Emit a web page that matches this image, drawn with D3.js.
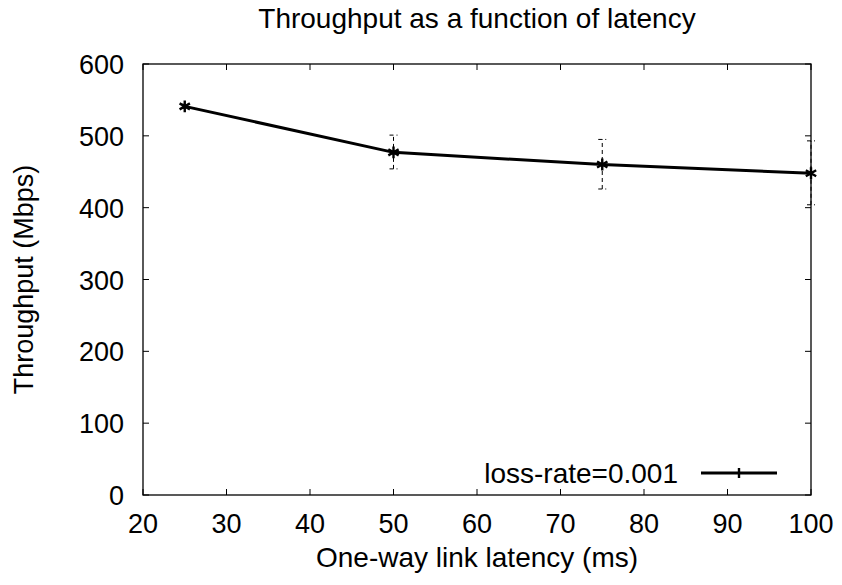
<!DOCTYPE html>
<html>
<head>
<meta charset="utf-8">
<script src="https://cdn.jsdelivr.net/npm/d3@7"></script>
<style>
  body { margin: 0; background: #fff; }
  text { font-family: "Liberation Sans", Arial, sans-serif; fill: #000; }
</style>
</head>
<body>
<div id="chart"></div>
<script>
// data
var latency = [25, 50, 75, 100];
var throughput = [541, 477, 460, 448];
var errLow = [538, 454, 426, 404];
var errHigh = [544, 501, 495, 493];
var xTicks = [20, 30, 40, 50, 60, 70, 80, 90, 100];
var yTicks = [0, 100, 200, 300, 400, 500, 600];
var seriesName = "loss-rate=0.001";

var w = 842,
  h = 585;
var pL = 143, pR = 811, pT = 64, pB = 495;

var svg = d3.select("#chart").append("svg").attr("width", w).attr("height", h);

var x = d3.scaleLinear().domain([20, 100]).range([pL, pR]);
var y = d3.scaleLinear().domain([0, 600]).range([pB, pT]);

// frame
svg.append("rect").attr("x", pL).attr("y", pT).attr("width", pR - pL).attr("height", pB - pT)
  .attr("fill", "none").attr("stroke", "#000").attr("stroke-width", 1.3);

// ticks inside on all sides
var tk = 6;
xTicks.forEach(function(t) {
  svg.append("line").attr("x1", x(t)).attr("x2", x(t)).attr("y1", pB).attr("y2", pB - tk).attr("stroke", "#000");
  svg.append("line").attr("x1", x(t)).attr("x2", x(t)).attr("y1", pT).attr("y2", pT + tk).attr("stroke", "#000");
  svg.append("text").attr("x", x(t)).attr("y", pB + 38).attr("text-anchor", "middle")
    .attr("font-size", 27).text(t);
});
yTicks.forEach(function(t) {
  svg.append("line").attr("x1", pL).attr("x2", pL + tk).attr("y1", y(t)).attr("y2", y(t)).attr("stroke", "#000");
  svg.append("line").attr("x1", pR).attr("x2", pR - tk).attr("y1", y(t)).attr("y2", y(t)).attr("stroke", "#000");
  svg.append("text").attr("x", pL - 19).attr("y", y(t) + 10).attr("text-anchor", "end")
    .attr("font-size", 27).text(t);
});

// titles
svg.append("text").attr("x", (pL + pR) / 2).attr("y", 28).attr("text-anchor", "middle")
  .attr("font-size", 28).text("Throughput as a function of latency");
svg.append("text").attr("x", (pL + pR) / 2).attr("y", 567).attr("text-anchor", "middle")
  .attr("font-size", 28).text("One-way link latency (ms)");
svg.append("text").attr("transform", "translate(33," + (pT + pB) / 2 + ") rotate(-90)")
  .attr("text-anchor", "middle").attr("font-size", 27).text("Throughput (Mbps)");

// error bars
var eb = svg.append("g").attr("stroke", "#000").attr("stroke-width", 1).attr("stroke-dasharray", "4,3");
latency.forEach(function(d, i) {
  eb.append("line").attr("x1", x(d)).attr("x2", x(d)).attr("y1", y(errLow[i])).attr("y2", y(errHigh[i]));
  [errLow[i], errHigh[i]].forEach(function(v) {
    eb.append("line").attr("x1", x(d) - 4).attr("x2", x(d) + 4).attr("y1", y(v)).attr("y2", y(v));
  });
});

// line
var line = d3.line().x(function(d, i) { return x(latency[i]); }).y(function(d) { return y(d); });
svg.append("path").datum(throughput).attr("d", line).attr("fill", "none")
  .attr("stroke", "#000").attr("stroke-width", 3);

// asterisk markers
var star = d3.symbol().type(d3.symbolAsterisk).size(100);
svg.selectAll(".pt").data(throughput).enter().append("path")
  .attr("transform", function(d, i) { return "translate(" + x(latency[i]) + "," + y(d) + ")"; })
  .attr("d", star).attr("fill", "none").attr("stroke", "#000").attr("stroke-width", 2.4);

// legend
var ly = 473;
svg.append("text").attr("x", 678).attr("y", ly + 10).attr("text-anchor", "end").attr("font-size", 28).text(seriesName);
svg.append("line").attr("x1", 701).attr("x2", 777).attr("y1", ly).attr("y2", ly).attr("stroke", "#000").attr("stroke-width", 3);
svg.append("line").attr("x1", 739).attr("x2", 739).attr("y1", ly - 5).attr("y2", ly + 5).attr("stroke", "#000").attr("stroke-width", 2.4);
</script>
</body>
</html>
